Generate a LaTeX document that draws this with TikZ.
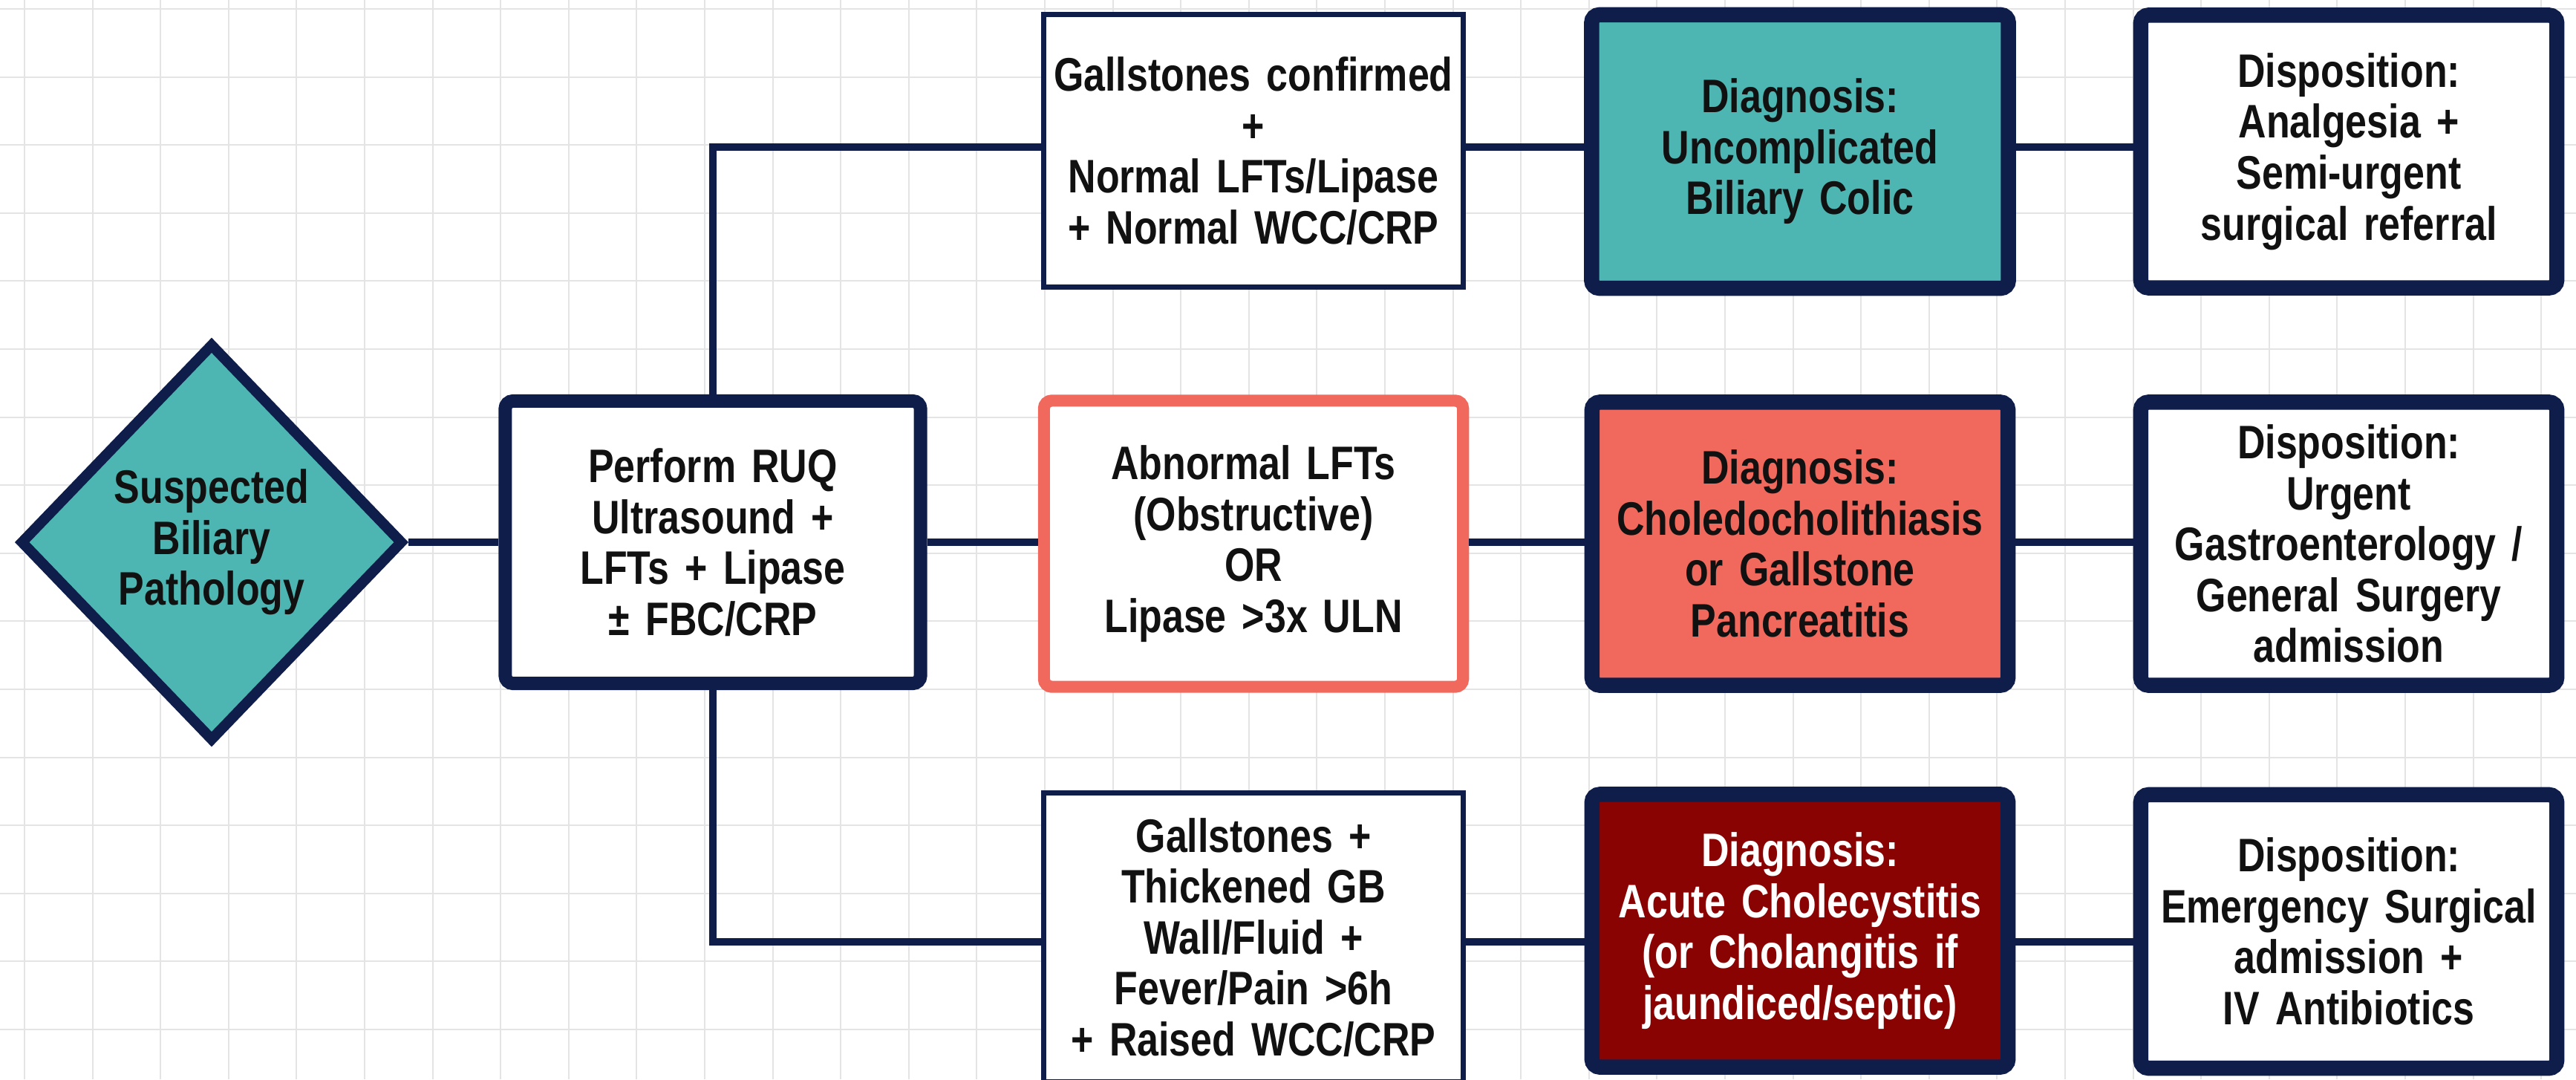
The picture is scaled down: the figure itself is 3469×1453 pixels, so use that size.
\documentclass[tikz,border=0pt]{standalone}
\usepackage{fontspec}
\setmainfont{Liberation Sans}[FakeStretch=0.82]
\usetikzlibrary{shapes.geometric}
\definecolor{navy}{HTML}{0F1D4A}
\definecolor{tealfill}{HTML}{4DB6B2}
\definecolor{salmon}{HTML}{F0695C}
\definecolor{darkred}{HTML}{8A0303}
\definecolor{gridgray}{HTML}{E4E4E4}
\definecolor{txt}{HTML}{111111}
\tikzset{
  gridline/.style={draw=gridgray, line width=0.6pt},
  conn/.style={draw=navy, line width=2.6pt},
  boxbase/.style={rectangle, align=center, inner sep=0pt, text=txt,
    font=\bfseries\fontsize{18}{19.5}\selectfont, text width=5.5cm},
  thinbox/.style={boxbase, draw=navy, fill=white, line width=2pt},
  thickbox/.style={boxbase, draw=navy, line width=5.8pt, rounded corners=3pt},
  salmonbox/.style={boxbase, draw=salmon, fill=white, line width=4.6pt, rounded corners=3pt},
  decision/.style={diamond, draw=navy, fill=tealfill, line width=4pt, inner sep=0pt,
    align=center, text=txt, font=\bfseries\fontsize{18}{19.5}\selectfont,
    minimum width=5.16cm, minimum height=5.36cm}
}
\begin{document}
\begin{tikzpicture}[x=0.01cm, y=-0.01cm]
\useasboundingbox[fill=white] (0,0) rectangle (3469,1453);
\foreach \i in {0,...,37} \draw[gridline] ({33+91.6*\i},0) -- ++(0,1453);
\foreach \j in {0,...,15} \draw[gridline] (0,{12+91.6*\j}) -- ++(3469,0);

% row coordinates
\coordinate (r1) at (0,198);
\coordinate (r2) at (0,730);
\coordinate (r3) at (0,1268);

% nodes
\node[decision] (d) at (285,730) {Suspected\\Biliary\\Pathology};
\node[thickbox, fill=white, line width=5.1pt, minimum width=5.59cm, minimum height=3.80cm] (ruq) at (960,730)
  {Perform RUQ\\Ultrasound +\\LFTs + Lipase\\± FBC/CRP};

\node[thinbox, minimum width=5.65cm, minimum height=3.66cm] (b1) at (1688,203)
  {Gallstones confirmed\\+\\Normal LFTs/Lipase\\+ Normal WCC/CRP};
\node[thickbox, fill=tealfill, minimum width=5.61cm, minimum height=3.68cm] (c1) at (2424,204)
  {Diagnosis:\\Uncomplicated\\Biliary Colic};
\node[thickbox, fill=white, minimum width=5.60cm, minimum height=3.67cm] (e1) at (3163,204)
  {Disposition:\\Analgesia +\\Semi-urgent\\surgical referral};

\node[salmonbox, minimum width=5.64cm, minimum height=3.85cm] (b2) at (1688,732)
  {Abnormal LFTs\\(Obstructive)\\OR\\Lipase >3x ULN};
\node[thickbox, fill=salmon, minimum width=5.60cm, minimum height=3.81cm] (c2) at (2424,732)
  {Diagnosis:\\Choledocholithiasis\\or Gallstone\\Pancreatitis};
\node[thickbox, fill=white, minimum width=5.60cm, minimum height=3.81cm] (e2) at (3163,732)
  {Disposition:\\Urgent\\Gastroenterology /\\General Surgery\\admission};

\node[thinbox, minimum width=5.65cm, minimum height=3.88cm] (b3) at (1688,1262)
  {Gallstones +\\Thickened GB\\Wall/Fluid +\\Fever/Pain >6h\\+ Raised WCC/CRP};
\node[thickbox, fill=darkred, text=white, minimum width=5.60cm, minimum height=3.67cm] (c3) at (2424,1253)
  {Diagnosis:\\Acute Cholecystitis\\(or Cholangitis if\\jaundiced/septic)};
\node[thickbox, fill=white, minimum width=5.60cm, minimum height=3.68cm] (e3) at (3163,1254)
  {Disposition:\\Emergency Surgical\\admission +\\IV Antibiotics};

% connectors
\draw[conn] (d.east) -- (ruq.west);
\draw[conn] (ruq.north) |- (b1.west |- r1);
\draw[conn] (ruq.east |- r2) -- (b2.west |- r2);
\draw[conn] (ruq.south) |- (b3.west |- r3);
\draw[conn] (b1.east |- r1) -- (c1.west |- r1);
\draw[conn] (c1.east |- r1) -- (e1.west |- r1);
\draw[conn] (b2.east |- r2) -- (c2.west |- r2);
\draw[conn] (c2.east |- r2) -- (e2.west |- r2);
\draw[conn] (b3.east |- r3) -- (c3.west |- r3);
\draw[conn] (c3.east |- r3) -- (e3.west |- r3);
\end{tikzpicture}
\end{document}
